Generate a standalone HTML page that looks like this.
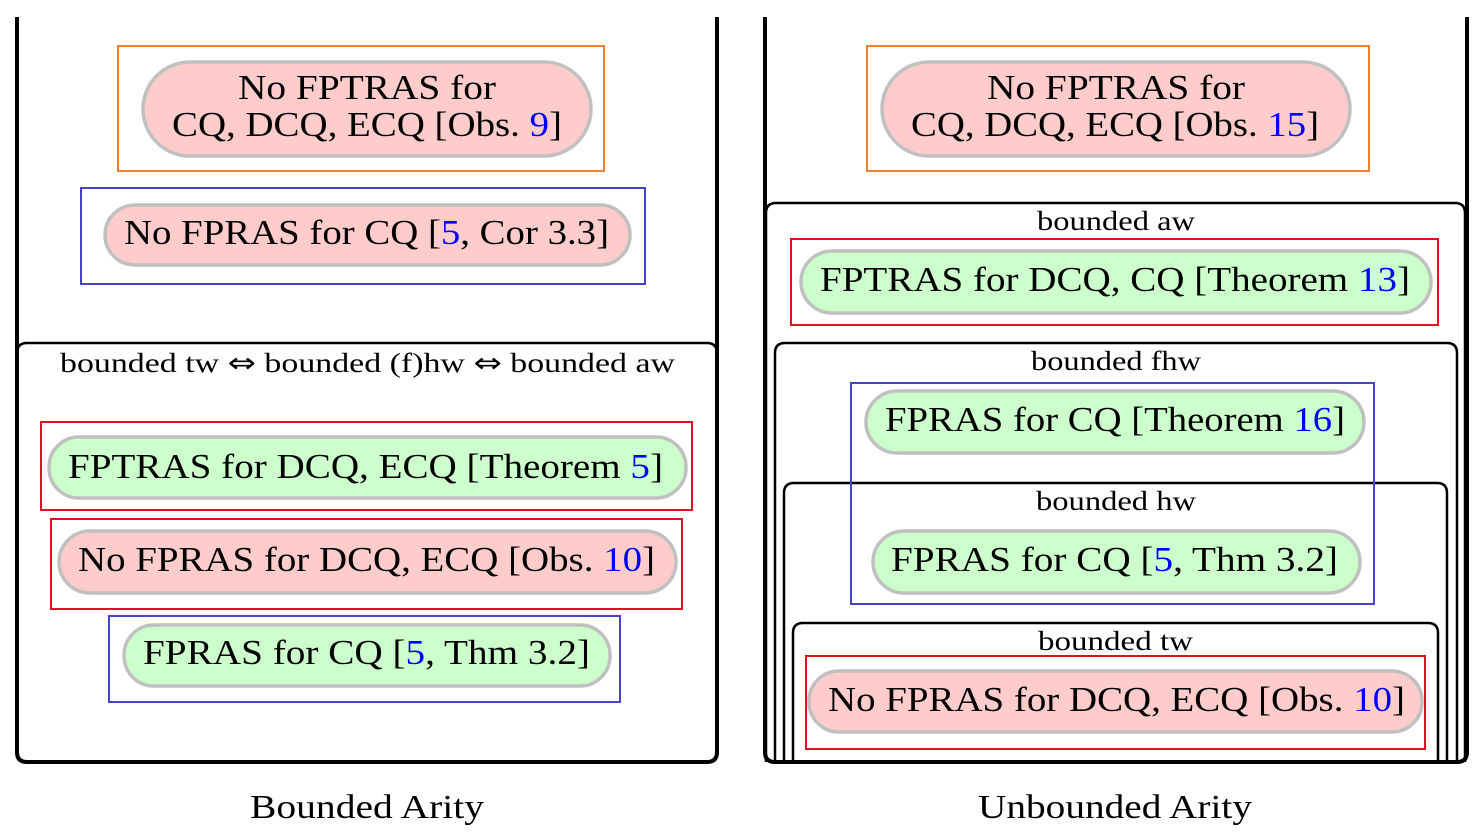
<!DOCTYPE html>
<html><head><meta charset="utf-8"><style>body{margin:0;background:#fff}svg{display:block}text{font-family:"Liberation Serif",serif;fill:#000}</style></head>
<body>
<svg width="1483" height="835" viewBox="0 0 1483 835" xmlns="http://www.w3.org/2000/svg">
<g fill="none" stroke="#000">
<path d="M17 17 V752 Q17 762 27 762 H707 Q717 762 717 752 V17" stroke-width="4"/>
<path d="M17 353 Q17 343 27 343 H707 Q717 343 717 353" stroke-width="2.5"/>
<path d="M775 762 V353 Q775 343 785 343 H1447 Q1457 343 1457 353 V762" stroke-width="2.5"/>
<path d="M784 762 V493 Q784 483 794 483 H1437 Q1447 483 1447 493 V762" stroke-width="2.5"/>
<path d="M793 762 V633 Q793 623 803 623 H1428 Q1438 623 1438 633 V762" stroke-width="2.5"/>
<path d="M766 762 V213 Q766 203 776 203 H1455 Q1465 203 1465 213 V762" stroke-width="2.5"/>
<path d="M765 17 V752 Q765 762 775 762 H1457 Q1467 762 1467 752 V17" stroke-width="4"/>
</g>
<g fill="none" stroke-width="2">
<rect x="118" y="46" width="486" height="125" stroke="#f08030"/>
<rect x="81" y="188" width="564" height="96" stroke="#4444cc"/>
<rect x="41" y="422" width="651" height="88" stroke="#dd1122"/>
<rect x="51" y="519" width="631" height="90" stroke="#dd1122"/>
<rect x="109" y="616" width="511" height="86" stroke="#4444cc"/>
<rect x="867" y="46" width="502" height="125" stroke="#f08030"/>
<rect x="791" y="239" width="647" height="86" stroke="#dd1122"/>
<rect x="851" y="383" width="523" height="221" stroke="#4444cc"/>
<rect x="806" y="656" width="619" height="93" stroke="#dd1122"/>
</g>
<g stroke="#c0c0c0" stroke-width="3.5">
<rect x="143" y="62" width="448" height="94" rx="47" fill="#ffcccc"/>
<rect x="105" y="205" width="525" height="60" rx="30" fill="#ffcccc"/>
<rect x="49" y="437" width="637" height="61" rx="30" fill="#ccffcc"/>
<rect x="59" y="531" width="617" height="62" rx="31" fill="#ffcccc"/>
<rect x="124" y="625" width="486" height="61" rx="30" fill="#ccffcc"/>
<rect x="882" y="62" width="468" height="94" rx="47" fill="#ffcccc"/>
<rect x="801" y="251" width="630" height="62" rx="31" fill="#ccffcc"/>
<rect x="866" y="391" width="498" height="62" rx="31" fill="#ccffcc"/>
<rect x="873" y="531" width="487" height="62" rx="31" fill="#ccffcc"/>
<rect x="809" y="671" width="613" height="61" rx="30" fill="#ffcccc"/>
</g>
<g font-size="35">
<text x="238" y="99" textLength="258" lengthAdjust="spacingAndGlyphs">No FPTRAS for</text>
<text x="172" y="136" textLength="390" lengthAdjust="spacingAndGlyphs">CQ, DCQ, ECQ [Obs. <tspan fill="#0000ff">9</tspan>]</text>
<text x="124" y="244" textLength="485" lengthAdjust="spacingAndGlyphs">No FPRAS for CQ [<tspan fill="#0000ff">5</tspan>, Cor 3.3]</text>
<text x="68" y="478" textLength="595" lengthAdjust="spacingAndGlyphs">FPTRAS for DCQ, ECQ [Theorem <tspan fill="#0000ff">5</tspan>]</text>
<text x="78" y="571" textLength="577" lengthAdjust="spacingAndGlyphs">No FPRAS for DCQ, ECQ [Obs. <tspan fill="#0000ff">10</tspan>]</text>
<text x="143" y="664" textLength="447" lengthAdjust="spacingAndGlyphs">FPRAS for CQ [<tspan fill="#0000ff">5</tspan>, Thm 3.2]</text>
<text x="987" y="99" textLength="258" lengthAdjust="spacingAndGlyphs">No FPTRAS for</text>
<text x="911" y="136" textLength="408" lengthAdjust="spacingAndGlyphs">CQ, DCQ, ECQ [Obs. <tspan fill="#0000ff">15</tspan>]</text>
<text x="820" y="291" textLength="590" lengthAdjust="spacingAndGlyphs">FPTRAS for DCQ, CQ [Theorem <tspan fill="#0000ff">13</tspan>]</text>
<text x="885" y="431" textLength="460" lengthAdjust="spacingAndGlyphs">FPRAS for CQ [Theorem <tspan fill="#0000ff">16</tspan>]</text>
<text x="891" y="571" textLength="447" lengthAdjust="spacingAndGlyphs">FPRAS for CQ [<tspan fill="#0000ff">5</tspan>, Thm 3.2]</text>
<text x="828" y="711" textLength="577" lengthAdjust="spacingAndGlyphs">No FPRAS for DCQ, ECQ [Obs. <tspan fill="#0000ff">10</tspan>]</text>
</g>
<g font-size="27">
<text x="60" y="372" textLength="615" lengthAdjust="spacingAndGlyphs">bounded tw <tspan style="font-family:'DejaVu Sans',sans-serif">⇔</tspan> bounded (f)hw <tspan style="font-family:'DejaVu Sans',sans-serif">⇔</tspan> bounded aw</text>
<text x="1037" y="230" textLength="158" lengthAdjust="spacingAndGlyphs">bounded aw</text>
<text x="1031" y="370" textLength="170" lengthAdjust="spacingAndGlyphs">bounded fhw</text>
<text x="1036" y="510" textLength="160" lengthAdjust="spacingAndGlyphs">bounded hw</text>
<text x="1038" y="650" textLength="155" lengthAdjust="spacingAndGlyphs">bounded tw</text>
</g>
<g font-size="34">
<text x="250" y="818" textLength="234" lengthAdjust="spacingAndGlyphs">Bounded Arity</text>
<text x="978" y="818" textLength="274" lengthAdjust="spacingAndGlyphs">Unbounded Arity</text>
</g>
</svg>
</body></html>
